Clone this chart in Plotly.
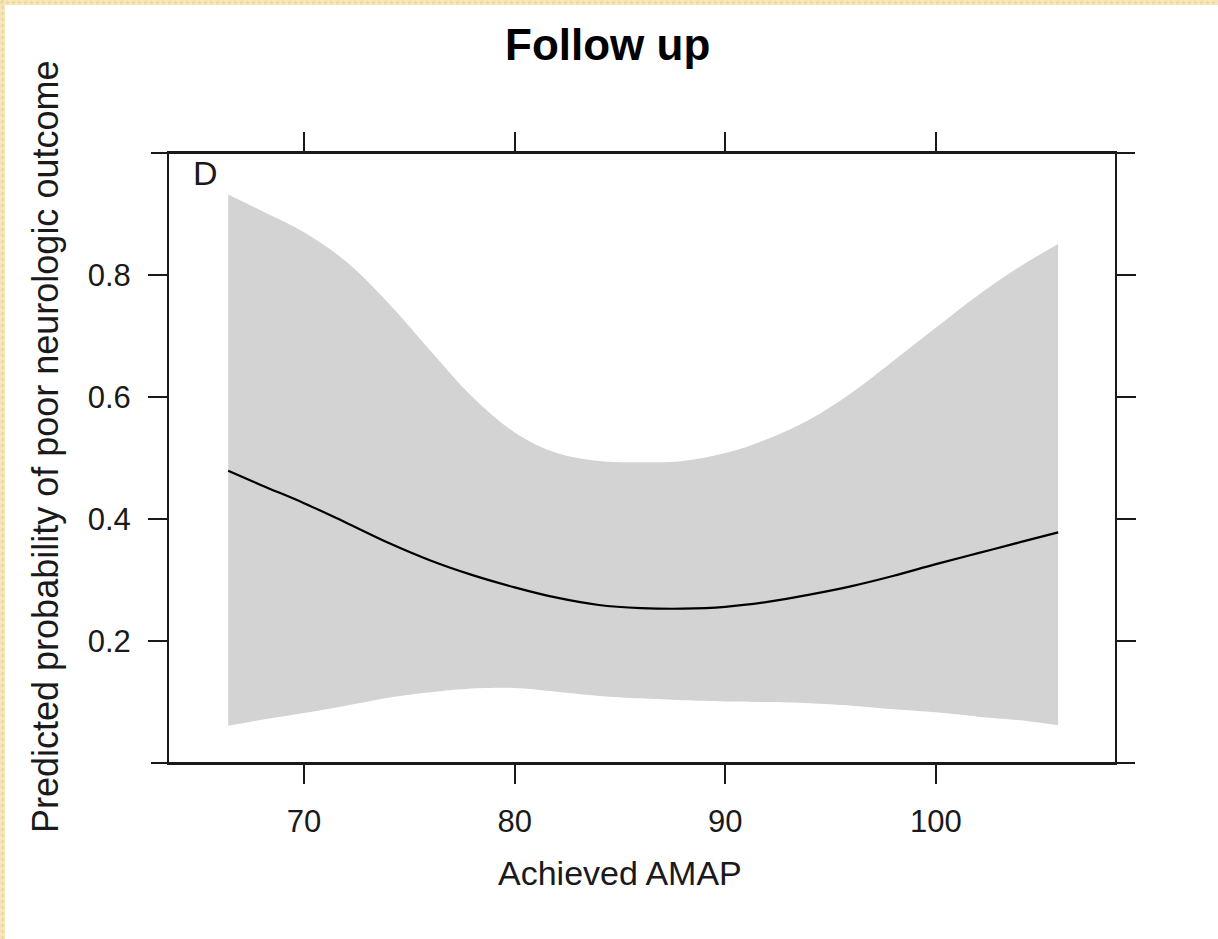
import plotly.graph_objects as go

# ---- data ----
amap = [66.4, 68, 70, 72, 74, 76, 78, 80, 82, 84, 86, 88, 90, 92, 94, 96, 98, 100, 102, 104, 105.8]
prob_mean = [0.479, 0.455, 0.426, 0.394, 0.361, 0.332, 0.308, 0.288, 0.271, 0.259, 0.254,
             0.253, 0.256, 0.264, 0.276, 0.290, 0.307, 0.326, 0.344, 0.362, 0.378]
prob_upper = [0.932, 0.905, 0.870, 0.822, 0.754, 0.676, 0.600, 0.542, 0.508, 0.495, 0.493,
              0.495, 0.508, 0.531, 0.563, 0.607, 0.660, 0.714, 0.767, 0.814, 0.851]
prob_lower = [0.061, 0.071, 0.082, 0.094, 0.107, 0.116, 0.122, 0.123, 0.117, 0.110, 0.106,
              0.103, 0.101, 0.100, 0.098, 0.094, 0.088, 0.083, 0.076, 0.070, 0.062]
x_ticks = [70, 80, 90, 100]
y_ticks = [0.2, 0.4, 0.6, 0.8]
title_text = "Follow up"
x_title = "Achieved AMAP"
y_title = "Predicted probability of poor neurologic outcome"
panel_label = "D"

# ---- layout geometry (pixels) ----
W, H = 1218, 939
L, R, T, B = 169, 103, 153, 176
PW, PH = W - L - R, H - T - B

def px(xp):
    return (xp - L) / PW

def py(yp):
    return (H - B - yp) / PH

FONT = "Liberation Sans, Arial, Helvetica, sans-serif"
AXC = "#1a1a1a"

fig = go.Figure()
fig.add_trace(go.Scatter(x=amap, y=prob_upper, mode="lines", line=dict(width=0, shape="spline", smoothing=1.0),
                         hoverinfo="skip", showlegend=False))
fig.add_trace(go.Scatter(x=amap, y=prob_lower, mode="lines", line=dict(width=0, shape="spline", smoothing=0.8),
                         fill="tonexty", fillcolor="#d3d3d3", hoverinfo="skip", showlegend=False))
fig.add_trace(go.Scatter(x=amap, y=prob_mean, mode="lines",
                         line=dict(color="black", width=2.2, shape="spline"), showlegend=False))

axis_common = dict(showgrid=False, zeroline=False, showline=True, linecolor=AXC, linewidth=2,
                   mirror="allticks", ticks="outside", ticklen=19, tickwidth=2, tickcolor=AXC,
                   tickfont=dict(family=FONT, size=31, color="#1a1a1a"), ticklabelstandoff=11)

fig.update_xaxes(range=[63.59, 108.5], tickvals=x_ticks, ticktext=[str(v) for v in x_ticks], **axis_common)
fig.update_yaxes(range=[0, 1.0], tickvals=y_ticks, ticktext=[f"{v:.1f}" for v in y_ticks], **axis_common)

shapes = [
    # horizontal box lines extending beyond the vertical ones
    dict(type="line", xref="paper", yref="paper", x0=px(151), x1=px(1135), y0=0, y1=0,
         line=dict(color=AXC, width=2)),
    dict(type="line", xref="paper", yref="paper", x0=px(151), x1=px(1135), y0=1, y1=1,
         line=dict(color=AXC, width=2)),
    # decorative border strips (top and left)
    dict(type="rect", xref="paper", yref="paper", x0=px(0), x1=px(W), y0=py(0), y1=py(5),
         fillcolor="#f6e6b9", line=dict(width=0), layer="above"),
    dict(type="rect", xref="paper", yref="paper", x0=px(0), x1=px(5), y0=py(H), y1=py(0),
         fillcolor="#f6e6b9", line=dict(width=0), layer="above"),
    dict(type="line", xref="paper", yref="paper", x0=px(0), x1=px(W), y0=py(2.5), y1=py(2.5),
         line=dict(color="#ecd59a", width=2, dash="dot"), layer="above"),
    dict(type="line", xref="paper", yref="paper", x0=px(2.5), x1=px(2.5), y0=py(H), y1=py(0),
         line=dict(color="#ecd59a", width=2, dash="dot"), layer="above"),
]

annotations = [
    dict(text=f"<b>{title_text}</b>", xref="paper", yref="paper", x=px(607), y=py(45),
         xanchor="center", yanchor="middle", showarrow=False,
         font=dict(family=FONT, size=44, color="black")),
    dict(text=x_title, xref="paper", yref="paper", x=px(620), y=py(873),
         xanchor="center", yanchor="middle", showarrow=False,
         font=dict(family=FONT, size=34, color="#1a1a1a")),
    dict(text=y_title, xref="paper", yref="paper", x=px(45), y=py(447), textangle=-90,
         xanchor="center", yanchor="middle", showarrow=False,
         font=dict(family=FONT, size=36, color="#1a1a1a")),
    dict(text=panel_label, xref="paper", yref="paper", x=px(191), y=py(173),
         xanchor="left", yanchor="middle", showarrow=False,
         font=dict(family=FONT, size=34, color="#1a1a1a")),
]

fig.update_layout(width=W, height=H, margin=dict(l=L, r=R, t=T, b=B, autoexpand=False),
                  paper_bgcolor="white", plot_bgcolor="white", showlegend=False,
                  shapes=shapes, annotations=annotations)

fig.write_html("out.html")
